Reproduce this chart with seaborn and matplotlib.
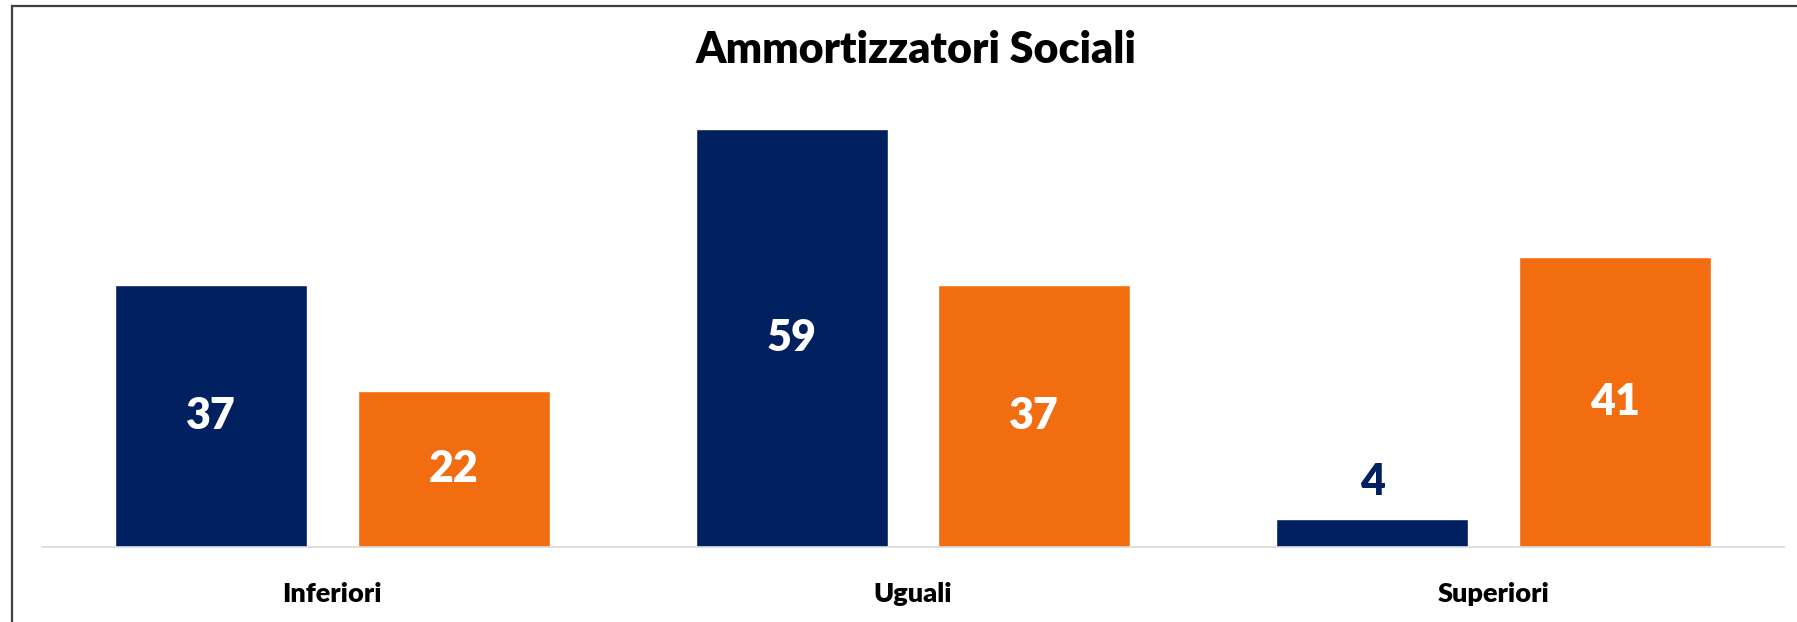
import numpy as np
import pandas as pd
import matplotlib
matplotlib.use("Agg")
import matplotlib.pyplot as plt
from matplotlib.patches import Rectangle
import seaborn as sns

# data
categories = ["Inferiori", "Uguali", "Superiori"]
series_names = ["Serie 1", "Serie 2"]
values_serie1 = [37, 59, 4]
values_serie2 = [22, 37, 41]
title = "Ammortizzatori Sociali"

NAVY = "#002060"
ORANGE = "#F26C10"

df = pd.DataFrame({
    "categoria": categories * 2,
    "serie": [series_names[0]] * 3 + [series_names[1]] * 3,
    "valore": values_serie1 + values_serie2,
})

sns.set_theme(style="white")
plt.rcParams["font.family"] = ["Lato", "DejaVu Sans"]

W, H = 1797, 622
fig = plt.figure(figsize=(W / 100, H / 100), dpi=100)
ax = fig.add_axes([42 / W, 75 / H, 1742 / W, 460 / H])

sns.barplot(data=df, x="categoria", y="valore", hue="serie",
            palette=[NAVY, ORANGE], width=0.836, gap=0.21,
            saturation=1, legend=False, ax=ax)

ax.set_xlim(-0.5, 2.5)
ax.set_ylim(0, 65)
ax.set_xlabel("")
ax.set_ylabel("")
ax.set_yticks([])
for side in ["left", "right", "top"]:
    ax.spines[side].set_visible(False)
ax.spines["bottom"].set_color("#D9D9D9")
ax.spines["bottom"].set_linewidth(1.2)
ax.tick_params(axis="x", length=0, pad=25)
for lab in ax.get_xticklabels():
    lab.set_fontsize(19.5)
    lab.set_fontweight("heavy")
    lab.set_color("black")

# value labels: white in the middle, navy above short bars
for cont in ax.containers:
    for bar in cont:
        v = bar.get_height()
        cx = bar.get_x() + bar.get_width() / 2
        if v < 10:
            ax.text(cx, v + 5.2, f"{v:.0f}", ha="center", va="center",
                    fontsize=31, fontweight="heavy", color=NAVY)
        else:
            ax.text(cx, v / 2, f"{v:.0f}", ha="center", va="center",
                    fontsize=31, fontweight="heavy", color="white")

fig.text(916 / W, 1 - 50 / H, title, ha="center", va="center",
         fontsize=31, fontweight="heavy", color="black")

# outer frame (only left and top edges visible in the reference)
fig.patches.append(Rectangle((12 / W, -0.1), 1.2, 1.1 - 6 / H,
                             transform=fig.transFigure, fill=False,
                             edgecolor="#404040", linewidth=1.6))

fig.savefig("out.png", dpi=100)
